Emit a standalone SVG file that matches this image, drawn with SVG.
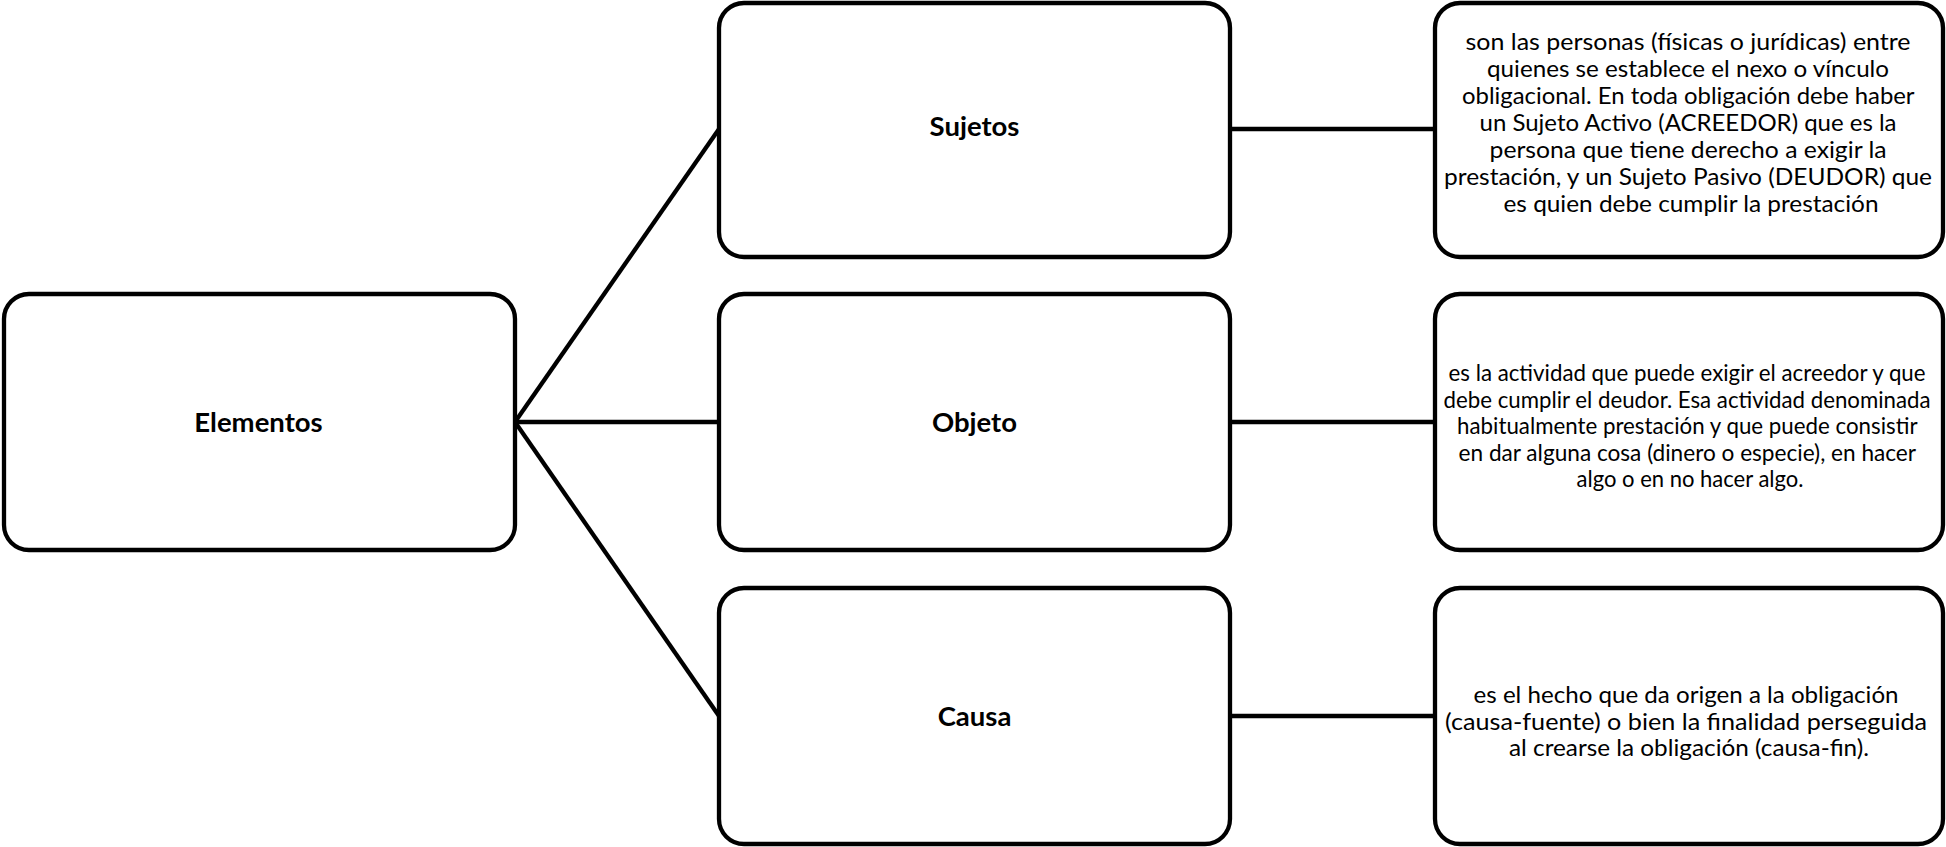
<svg xmlns="http://www.w3.org/2000/svg" width="1946" height="847" viewBox="0 0 1946 847">
<style>
.box{fill:#fff;stroke:#000;stroke-width:4.3}
.lbl{font-family:Lato,"Liberation Sans",sans-serif;font-weight:bold;font-size:27.5px;fill:#000;text-anchor:middle}
.txt{font-family:Lato,"Liberation Sans",sans-serif;font-size:23px;fill:#000;text-anchor:middle}
.con{stroke:#000;stroke-width:4.3;fill:none}
</style>
<rect width="1946" height="847" fill="#fff"/>
<g id="connectors">
<line class="con" x1="515" y1="422" x2="719" y2="129"/>
<line class="con" x1="515" y1="422" x2="719" y2="422"/>
<line class="con" x1="515" y1="422" x2="719" y2="716"/>
<line class="con" x1="1230" y1="129" x2="1435" y2="129"/>
<line class="con" x1="1230" y1="422" x2="1435" y2="422"/>
<line class="con" x1="1230" y1="716" x2="1435" y2="716"/>
</g>
<g id="elementos">
<rect class="box" x="4" y="294" width="511" height="256" rx="25"/>
<text class="lbl" x="258.5" y="432">Elementos</text>
</g>
<g id="sujetos">
<rect class="box" x="719" y="3" width="511" height="254" rx="25"/>
<text class="lbl" x="974.5" y="136">Sujetos</text>
</g>
<g id="objeto">
<rect class="box" x="719" y="294" width="511" height="256" rx="25"/>
<text class="lbl" x="974.5" y="432">Objeto</text>
</g>
<g id="causa">
<rect class="box" x="719" y="588" width="511" height="256" rx="25"/>
<text class="lbl" x="974.5" y="726">Causa</text>
</g>
<g id="sujetos-desc">
<rect class="box" x="1435" y="3" width="508" height="254" rx="25"/>
<text class="txt">
<tspan x="1691" y="50" textLength="445" lengthAdjust="spacingAndGlyphs">son las personas (físicas o jurídicas) entre</tspan>
<tspan x="1691" y="77" textLength="402" lengthAdjust="spacingAndGlyphs">quienes se establece el nexo o vínculo</tspan>
<tspan x="1691" y="104" textLength="452" lengthAdjust="spacingAndGlyphs">obligacional. En toda obligación debe haber</tspan>
<tspan x="1691" y="131" textLength="417" lengthAdjust="spacingAndGlyphs">un Sujeto Activo (ACREEDOR) que es la</tspan>
<tspan x="1691" y="158" textLength="397" lengthAdjust="spacingAndGlyphs">persona que tiene derecho a exigir la</tspan>
<tspan x="1691" y="185" textLength="488" lengthAdjust="spacingAndGlyphs">prestación, y un Sujeto Pasivo (DEUDOR) que</tspan>
<tspan x="1691" y="212" textLength="375" lengthAdjust="spacingAndGlyphs">es quien debe cumplir la prestación</tspan>
</text>
</g>
<g id="objeto-desc">
<rect class="box" x="1435" y="294" width="508" height="256" rx="25"/>
<text class="txt">
<tspan x="1690" y="381" textLength="477" lengthAdjust="spacingAndGlyphs">es la actividad que puede exigir el acreedor y que</tspan>
<tspan x="1690" y="407.5" textLength="487" lengthAdjust="spacingAndGlyphs">debe cumplir el deudor. Esa actividad denominada</tspan>
<tspan x="1690" y="434" textLength="460" lengthAdjust="spacingAndGlyphs">habitualmente prestación y que puede consistir</tspan>
<tspan x="1690" y="460.5" textLength="457" lengthAdjust="spacingAndGlyphs">en dar alguna cosa (dinero o especie), en hacer</tspan>
<tspan x="1690" y="487" textLength="227" lengthAdjust="spacingAndGlyphs">algo o en no hacer algo.</tspan>
</text>
</g>
<g id="causa-desc">
<rect class="box" x="1435" y="588" width="508" height="256" rx="25"/>
<text class="txt">
<tspan x="1689" y="703" textLength="425" lengthAdjust="spacingAndGlyphs">es el hecho que da origen a la obligación</tspan>
<tspan x="1689" y="729.5" textLength="482" lengthAdjust="spacingAndGlyphs">(causa-fuente) o bien la finalidad perseguida</tspan>
<tspan x="1689" y="756" textLength="360" lengthAdjust="spacingAndGlyphs">al crearse la obligación (causa-fin).</tspan>
</text>
</g>
</svg>
